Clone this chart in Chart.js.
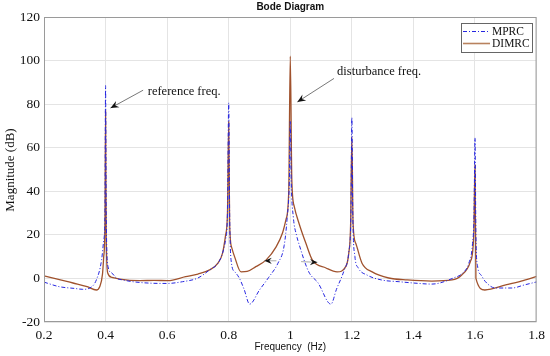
<!DOCTYPE html>
<html>
<head>
<meta charset="utf-8">
<script src="https://cdn.jsdelivr.net/npm/chart.js@4/dist/chart.umd.min.js"></script>
<style>
  html, body { margin: 0; padding: 0; background: #fff; }
  #wrap { width: 550px; height: 356px; }
</style>
</head>
<body>
<div id="wrap"><canvas id="bode" width="550" height="356"></canvas></div>
<script>
// frequencies (Hz) and magnitudes (dB)
const mprcFreq = [0.2, 0.25, 0.3, 0.326, 0.349, 0.37, 0.387, 0.394, 0.398, 0.4, 0.402, 0.408, 0.42, 0.435, 0.46, 0.488, 0.55, 0.6, 0.65, 0.7, 0.738, 0.765, 0.78, 0.79, 0.796, 0.8,
  0.803, 0.808, 0.82, 0.835, 0.85, 0.868, 0.9, 0.93, 0.96, 0.98, 0.99, 0.997, 1.0,
  1.003, 1.01, 1.02, 1.03, 1.06, 1.09, 1.132, 1.15, 1.175, 1.19, 1.197, 1.2,
  1.203, 1.21, 1.22, 1.25, 1.3, 1.353, 1.4, 1.46, 1.53, 1.56, 1.58, 1.592, 1.597, 1.6,
  1.603, 1.608, 1.62, 1.634, 1.666, 1.72, 1.76, 1.8];
const mprcMag = [-1.7, -3.8, -4.6, -5, -4.4, -0.7, 8.4, 17.6, 30, 88.5, 30, 5.4, 2.5, 0.2, -0.8, -1.5, -2.2, -2.3, -1.5, 0.2, 3.9, 7, 11.6, 18, 30, 80.6,
  30, 8, 3, 0, -5, -11.8, -5.3, 0.5, 7, 15, 28, 45, 72,
  45, 28, 20, 15, 3, -2, -11.8, -5, 3.8, 12, 30, 73.8,
  30, 10, 5, 1.5, -0.8, -1.5, -2.1, -2.6, 0.2, 2.5, 7, 16, 30, 64.5,
  20, 6, 1.5, -1.5, -4.4, -4.4, -3, -1.6];

const dimrcFreq = [0.2, 0.25, 0.294, 0.34, 0.37, 0.381, 0.39, 0.394, 0.398, 0.4, 0.402, 0.407, 0.42, 0.446, 0.511, 0.558, 0.602, 0.66, 0.7, 0.738, 0.765, 0.78, 0.79, 0.796, 0.8,
  0.803, 0.81, 0.819, 0.84, 0.86, 0.888, 0.921, 0.954, 0.975, 0.986, 0.995, 1.0,
  1.005, 1.013, 1.029, 1.051, 1.072, 1.116, 1.152, 1.18, 1.19, 1.196, 1.2,
  1.204, 1.213, 1.233, 1.266, 1.32, 1.38, 1.46, 1.525, 1.557, 1.585, 1.596, 1.6,
  1.603, 1.632, 1.7, 1.75, 1.8];
const dimrcMag = [1.2, -0.5, -2.1, -3.8, -5.3, -3.8, 2, 10, 25, 77, 20, 2.5, 0.5, -0.3, -1, -0.9, -1, 0.8, 2, 3.9, 7, 11.6, 20, 30, 72,
  25, 14, 10, 3, 3.2, 5.4, 8.4, 14.5, 21, 27, 40, 102,
  45, 33, 25, 16, 8.4, 4.8, 3, 5.4, 11.6, 25, 65,
  25, 16, 7, 3, 0.2, -0.7, -1.2, -0.7, 1.6, 7.7, 20, 52,
  0, -5.3, -3, -1.2, 0.9];

const xTicks = [0.2, 0.4, 0.6, 0.8, 1.0, 1.2, 1.4, 1.6, 1.8];
const xTickLabels = ['0.2', '0.4', '0.6', '0.8', '1', '1.2', '1.4', '1.6', '1.8'];
const yTicks = [-20, 0, 20, 40, 60, 80, 100, 120];
const yTickLabels = ['-20', '0', '20', '40', '60', '80', '100', '120'];

// text annotations: [freq, dB] anchors
const notes = [
  { text: 'reference freq.', at: [0.537, 85.6], from: [0.522, 86.4], to: [0.416, 78.2] },
  { text: 'disturbance freq.', at: [1.152, 94.8], from: [1.142, 91.8], to: [1.023, 81] }
];
const smallArrows = [
  { from: [0.955, 8.1], to: [0.916, 8.1] },
  { from: [1.035, 7.7], to: [1.088, 7.4] }
];

const serif = '"Liberation Serif", "Times New Roman", serif';
const sans = '"Liberation Sans", Arial, sans-serif';
const blue = '#2626e0';
const brown = '#a0522d';

function toXY(xs, ys) {
  return xs.map((x, i) => ({ x: x, y: ys[i] }));
}

function arrowHead(ctx, x1, y1, x2, y2, size) {
  const a = Math.atan2(y2 - y1, x2 - x1);
  ctx.beginPath();
  ctx.moveTo(x2, y2);
  ctx.lineTo(x2 - size * Math.cos(a - 0.4), y2 - size * Math.sin(a - 0.4));
  ctx.lineTo(x2 - size * 0.6 * Math.cos(a), y2 - size * 0.6 * Math.sin(a));
  ctx.lineTo(x2 - size * Math.cos(a + 0.4), y2 - size * Math.sin(a + 0.4));
  ctx.closePath();
  ctx.fill();
}

const decorations = {
  id: 'decorations',
  afterDatasetsDraw(chart) {
    const { ctx, chartArea: ca, scales } = chart;
    const px = p => [scales.x.getPixelForValue(p[0]), scales.y.getPixelForValue(p[1])];
    ctx.save();

    // box
    ctx.strokeStyle = '#9a9a9a';
    ctx.lineWidth = 1;
    ctx.strokeRect(ca.left + 0.5, ca.top + 0.5, ca.right - ca.left - 1, ca.bottom - ca.top - 1);

    // annotations
    notes.forEach(n => {
      const [tx, ty] = px(n.at);
      const [fx, fy] = px(n.from);
      const [ex, ey] = px(n.to);
      ctx.strokeStyle = '#555';
      ctx.fillStyle = '#111';
      ctx.lineWidth = 0.8;
      ctx.beginPath();
      ctx.moveTo(fx, fy);
      ctx.lineTo(ex, ey);
      ctx.stroke();
      arrowHead(ctx, fx, fy, ex, ey, 9);
      ctx.font = '12.5px ' + serif;
      ctx.textAlign = 'left';
      ctx.textBaseline = 'middle';
      ctx.fillText(n.text, tx, ty);
    });
    smallArrows.forEach(a => {
      const [fx, fy] = px(a.from);
      const [ex, ey] = px(a.to);
      ctx.strokeStyle = '#aaa';
      ctx.fillStyle = '#111';
      ctx.lineWidth = 1;
      ctx.beginPath();
      ctx.moveTo(fx, fy);
      ctx.lineTo(ex, ey);
      ctx.stroke();
      arrowHead(ctx, fx, fy, ex, ey, 8);
    });

    // legend
    const lx = 461, ly = 23, lw = 71, lh = 29;
    ctx.fillStyle = '#fff';
    ctx.fillRect(lx, ly, lw, lh);
    ctx.strokeStyle = '#666';
    ctx.lineWidth = 1;
    ctx.strokeRect(lx + 0.5, ly + 0.5, lw, lh);
    ctx.lineWidth = 1;
    ctx.strokeStyle = blue;
    ctx.setLineDash([4, 2, 1, 2]);
    ctx.beginPath();
    ctx.moveTo(463, 31.5);
    ctx.lineTo(490, 31.5);
    ctx.stroke();
    ctx.setLineDash([]);
    ctx.strokeStyle = '#b8825e';
    ctx.lineWidth = 1.6;
    ctx.beginPath();
    ctx.moveTo(463, 43.5);
    ctx.lineTo(490, 43.5);
    ctx.stroke();
    ctx.fillStyle = '#111';
    ctx.font = '11.5px ' + serif;
    ctx.textAlign = 'left';
    ctx.textBaseline = 'middle';
    ctx.fillText('MPRC', 492, 32);
    ctx.fillText('DIMRC', 492, 44);

    // title and axis titles
    const cx = (ca.left + ca.right) / 2;
    ctx.font = 'bold 10px ' + sans;
    ctx.textAlign = 'center';
    ctx.fillText('Bode Diagram', cx, 7);
    ctx.font = '10px ' + sans;
    ctx.fillText('Frequency  (Hz)', cx, 347);
    ctx.translate(11, 170);
    ctx.rotate(-Math.PI / 2);
    ctx.font = '13px ' + serif;
    ctx.fillText('Magnitude (dB)', 0, 0);
    ctx.restore();
  }
};

new Chart(document.getElementById('bode').getContext('2d'), {
  type: 'line',
  data: {
    datasets: [
      {
        label: 'MPRC',
        data: toXY(mprcFreq, mprcMag),
        borderColor: blue,
        borderWidth: 1,
        borderDash: [4, 2, 1, 2],
        pointRadius: 0,
        cubicInterpolationMode: 'monotone'
      },
      {
        label: 'DIMRC',
        data: toXY(dimrcFreq, dimrcMag),
        borderColor: brown,
        borderWidth: 1.3,
        pointRadius: 0,
        cubicInterpolationMode: 'monotone'
      }
    ]
  },
  options: {
    responsive: false,
    animation: false,
    layout: { padding: { top: 17, right: 12, left: 0, bottom: 0 } },
    plugins: {
      legend: { display: false },
      title: { display: false },
      tooltip: { enabled: false }
    },
    scales: {
      x: {
        type: 'linear',
        min: 0.2,
        max: 1.8,
        afterFit: s => { s.height = 34; },
        afterBuildTicks: s => { s.ticks = xTicks.map(v => ({ value: v })); },
        grid: { color: '#e4e4e4', drawTicks: false },
        border: { display: false },
        ticks: {
          padding: 5,
          color: '#111',
          font: { family: serif, size: 13.5 },
          callback: (v, i) => xTickLabels[i]
        }
      },
      y: {
        type: 'linear',
        min: -20,
        max: 120,
        afterFit: s => { s.width = 44; },
        afterBuildTicks: s => { s.ticks = yTicks.map(v => ({ value: v })); },
        grid: { color: '#e4e4e4', drawTicks: false },
        border: { display: false },
        ticks: {
          padding: 4,
          color: '#111',
          font: { family: serif, size: 13.5 },
          callback: (v, i) => yTickLabels[i]
        }
      }
    }
  },
  plugins: [decorations]
});
</script>
</body>
</html>
